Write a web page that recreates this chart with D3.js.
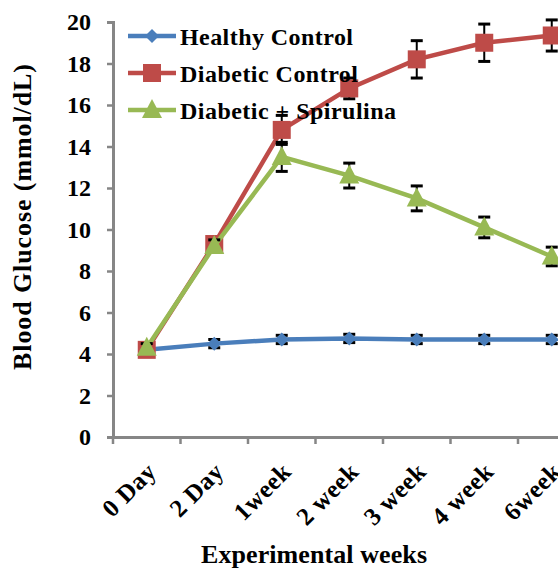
<!DOCTYPE html>
<html>
<head>
<meta charset="utf-8">
<script src="https://cdn.jsdelivr.net/npm/d3@7"></script>
<style>
  body { margin: 0; background: #fff; }
  svg { display: block; }
</style>
</head>
<body>
<svg id="chart" width="558" height="573"></svg>
<script>
// ---- Data
const categories = ["0 Day", "2 Day", "1week", "2 week", "3 week", "4 week", "6week"];
const yTicks = [0, 2, 4, 6, 8, 10, 12, 14, 16, 18, 20];

const healthyValues = [4.2, 4.5, 4.7, 4.75, 4.7, 4.7, 4.7];
const healthyErrors = [0.15, 0.2, 0.2, 0.2, 0.2, 0.2, 0.2];

const diabeticValues = [4.2, 9.3, 14.8, 16.8, 18.2, 19.0, 19.35];
const diabeticErrors = [0.2, 0.3, 0.7, 0.5, 0.9, 0.9, 0.75];

const spirulinaValues = [4.3, 9.2, 13.5, 12.6, 11.5, 10.1, 8.7];
const spirulinaErrors = [0.2, 0.3, 0.7, 0.6, 0.6, 0.5, 0.45];

const series = [
    { name: "Healthy Control", values: healthyValues, errors: healthyErrors, color: "#4a7ebb", marker: "diamond" },
    { name: "Diabetic Control", values: diabeticValues, errors: diabeticErrors, color: "#be4b48", marker: "square" },
    { name: "Diabetic + Spirulina", values: spirulinaValues, errors: spirulinaErrors, color: "#98b954", marker: "triangle" }
];

const FONT = '"Liberation Serif"';
const svg = d3.select("#chart");
const margin = { left: 113, top: 22, bottom: 136 };
const height = 573;

// ---- Scales
const mapX = d3.scaleBand().domain(categories).range([margin.left, margin.left + 7 * 67.5]);
const mapY = d3.scaleLinear().domain([0, 20]).range([height - margin.bottom, margin.top]);
const cx = d => mapX(d) + mapX.bandwidth() / 2;

const axisColor = "#868686";

// ---- Axes
const yAxis = svg.append("g")
    .attr("transform", `translate(${margin.left},0)`)
    .call(d3.axisLeft(mapY).tickValues(yTicks).tickSize(6).tickPadding(16));
yAxis.attr("font-family", null);
yAxis.select(".domain").attr("stroke", axisColor).attr("stroke-width", 3);
yAxis.selectAll(".tick line").attr("stroke", axisColor).attr("stroke-width", 2.5);
yAxis.selectAll(".tick text")
    .style("font-family", FONT).style("font-weight", "bold").style("font-size", "24px")
    .attr("fill", "#000");

const xAxis = svg.append("g")
    .attr("transform", `translate(0,${mapY(0)})`)
    .call(d3.axisBottom(mapX).tickSize(0).tickFormat(""));
xAxis.select(".domain").attr("stroke", axisColor).attr("stroke-width", 3);
xAxis.selectAll(".tick").remove();

// x tick marks between categories
svg.append("g").selectAll("line")
    .data(d3.range(categories.length + 1))
    .enter().append("line")
    .attr("x1", i => margin.left + i * mapX.step())
    .attr("x2", i => margin.left + i * mapX.step())
    .attr("y1", mapY(0))
    .attr("y2", mapY(0) + 7)
    .attr("stroke", axisColor)
    .attr("stroke-width", 2.5);

// x labels, rotated
svg.append("g").selectAll("text")
    .data(categories)
    .enter().append("text")
    .attr("transform", d => `translate(${cx(d) + 11},${mapY(0) + 36}) rotate(-45)`)
    .attr("text-anchor", "end")
    .style("font-family", FONT).style("font-weight", "bold").style("font-size", "25px")
    .style("letter-spacing", "0.5px")
    .text(d => d);

// axis titles
svg.append("text")
    .attr("x", 314)
    .attr("y", 563)
    .attr("text-anchor", "middle")
    .attr("textLength", 226)
    .attr("lengthAdjust", "spacing")
    .style("font-family", FONT).style("font-weight", "bold").style("font-size", "26px")
    .text("Experimental weeks");

svg.append("text")
    .attr("transform", `translate(31,217) rotate(-90)`)
    .attr("text-anchor", "middle")
    .attr("textLength", 306)
    .attr("lengthAdjust", "spacing")
    .style("font-family", FONT).style("font-weight", "bold").style("font-size", "26px")
    .text("Blood Glucose (mmol/dL)");

// ---- Markers
function drawMarker(g, type, color) {
    if (type === "diamond") {
        g.append("path").attr("d", "M0,-7L7,0L0,7L-7,0Z").attr("fill", color);
    } else if (type === "square") {
        g.append("rect").attr("x", -9).attr("y", -9).attr("width", 18).attr("height", 18).attr("fill", color);
    } else {
        g.append("path").attr("d", "M0,-11L10,8L-10,8Z").attr("fill", color);
    }
}

const line = d3.line().x(d => cx(d.cat)).y(d => mapY(d.v));

series.forEach(s => {
    const pts = categories.map((c, i) => ({ cat: c, v: s.values[i], e: s.errors[i] }));
    svg.append("path")
        .datum(pts)
        .attr("fill", "none")
        .attr("stroke", s.color)
        .attr("stroke-width", 4.5)
        .attr("d", line);

    const eb = svg.append("g");
    pts.forEach(p => {
        const x = cx(p.cat);
        eb.append("line").attr("x1", x).attr("x2", x)
            .attr("y1", mapY(p.v - p.e)).attr("y2", mapY(p.v + p.e))
            .attr("stroke", "#000").attr("stroke-width", 2);
        [p.v - p.e, p.v + p.e].forEach(v => {
            eb.append("line").attr("x1", x - 6).attr("x2", x + 6)
                .attr("y1", mapY(v)).attr("y2", mapY(v))
                .attr("stroke", "#000").attr("stroke-width", 3);
        });
    });

    pts.forEach(p => {
        const g = svg.append("g").attr("transform", `translate(${cx(p.cat)},${mapY(p.v)})`);
        drawMarker(g, s.marker, s.color);
    });
});

// ---- Legend
const legend = svg.append("g");
const legendWidths = [173, 178, 216];
series.forEach((s, i) => {
    const y = 36 + i * 37;
    legend.append("line")
        .attr("x1", 128).attr("x2", 176)
        .attr("y1", y).attr("y2", y)
        .attr("stroke", s.color).attr("stroke-width", 4.5);
    const g = legend.append("g").attr("transform", `translate(152,${y})`);
    drawMarker(g, s.marker, s.color);
    legend.append("text")
        .attr("x", 180)
        .attr("y", y + 9)
        .attr("textLength", legendWidths[i])
        .attr("lengthAdjust", "spacing")
        .style("font-family", FONT).style("font-weight", "bold").style("font-size", "24px")
        .text(s.name);
});
</script>
</body>
</html>
